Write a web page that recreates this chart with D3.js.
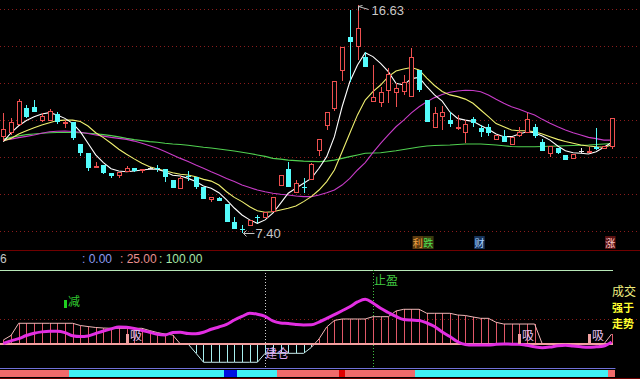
<!DOCTYPE html>
<html><head><meta charset="utf-8">
<script src="https://cdn.jsdelivr.net/npm/d3@7"></script>
<style>html,body{margin:0;padding:0;background:#000;overflow:hidden}svg{display:block}</style>
</head><body><svg id="c" width="640" height="379"></svg>
<script>
// ---------- DATA ----------
const opens  = [11.31,11.47,11.79,12.48,12.52,11.95,11.95,12.24,11.83,11.91,11.02,10.66,10.09,10.17,9.85,9.73,9.89,10.05,9.93,10.05,10.07,10.01,9.56,9.20,9.71,9.69,9.28,8.76,8.84,8.59,7.86,7.60,7.70,8.05,8.03,8.27,9.32,10.01,9.04,9.30,9.56,10.74,11.75,12.44,13.98,15.35,14.95,14.54,12.72,12.68,13.17,13.09,13.13,12.93,14.02,12.80,11.67,12.12,11.99,11.69,11.47,12.03,11.67,11.71,11.18,11.35,10.98,11.35,11.47,11.71,11.10,10.62,10.86,10.58,10.42,10.74,10.66,10.90,10.82,10.90];
const highs  = [12.28,12.07,12.84,12.60,12.80,12.28,12.44,12.32,11.99,11.91,11.02,10.66,10.29,10.17,9.85,9.89,10.13,10.05,10.01,10.09,10.17,10.01,9.56,9.73,9.93,9.69,9.28,8.88,8.88,8.59,8.07,7.74,7.95,8.15,8.27,8.88,9.77,10.29,9.56,9.65,10.25,11.22,12.32,13.57,14.95,16.45,16.63,14.75,14.22,13.33,14.10,13.49,13.82,14.91,14.02,12.80,12.52,12.56,12.32,12.20,11.99,12.12,11.79,11.83,11.39,11.59,11.31,11.71,12.28,11.83,11.22,10.94,10.86,10.58,10.62,10.86,10.90,11.67,10.94,12.07];
const lows   = [11.14,11.39,11.79,12.07,12.32,11.91,11.95,11.83,11.67,11.18,10.54,9.93,10.09,9.81,9.65,9.65,9.89,9.89,9.85,10.01,9.89,9.48,9.24,9.20,9.52,9.20,8.80,8.67,8.71,7.86,7.58,7.40,7.70,7.82,8.03,8.27,9.32,9.28,9.04,9.04,9.56,10.54,11.59,12.36,13.57,13.53,14.42,14.14,12.72,12.52,12.68,12.52,13.01,12.93,13.13,11.91,11.67,11.59,11.71,11.59,11.06,11.71,11.31,11.35,11.18,11.10,10.98,11.31,11.47,11.27,10.74,10.50,10.62,10.37,10.42,10.66,10.66,10.78,10.82,10.82];
const closes = [11.63,11.91,12.76,12.12,12.32,12.16,12.36,11.91,11.91,11.27,10.66,10.05,10.13,9.85,9.73,9.89,10.05,9.93,10.01,10.05,10.03,9.69,9.24,9.65,9.67,9.28,8.80,8.88,8.71,7.86,7.58,7.56,7.95,8.01,8.27,8.88,9.77,9.28,9.44,9.26,10.21,11.22,12.32,13.57,14.95,15.15,15.72,14.14,12.93,13.13,13.86,13.29,13.53,14.54,13.20,11.91,12.28,12.32,11.83,11.73,11.83,11.87,11.51,11.47,11.39,11.10,11.31,11.51,12.03,11.35,10.74,10.94,10.66,10.37,10.62,10.74,10.74,10.82,10.94,12.07];

const ma5  = [11.12,11.47,11.76,11.97,12.13,12.24,12.29,12.20,12.06,11.86,11.52,11.05,10.58,10.27,10.02,9.93,9.90,9.93,9.97,10.00,10.00,9.90,9.76,9.73,9.63,9.50,9.32,9.23,9.05,8.76,8.43,8.15,7.95,7.81,7.95,8.22,8.62,9.03,9.23,9.43,9.63,10.04,10.51,11.32,12.53,13.54,14.22,14.72,14.56,14.29,13.95,13.48,13.41,13.67,13.72,13.34,13.01,12.76,12.32,12.06,11.99,11.94,11.77,11.62,11.43,11.32,11.32,11.43,11.52,11.48,11.35,11.18,10.94,10.75,10.67,10.65,10.62,10.71,10.89,11.08];
const ma10 = [11.14,11.25,11.43,11.56,11.68,11.79,11.88,11.97,11.99,11.99,11.93,11.75,11.48,11.28,11.05,10.81,10.61,10.42,10.24,10.10,10.01,9.94,9.86,9.80,9.77,9.70,9.59,9.52,9.36,9.09,8.86,8.69,8.48,8.32,8.26,8.28,8.35,8.42,8.51,8.69,8.89,9.16,9.50,9.97,10.71,11.46,12.20,12.80,13.14,13.41,13.75,13.98,14.06,14.12,14.02,13.69,13.39,13.15,13.01,12.94,12.84,12.67,12.40,12.13,11.85,11.72,11.59,11.56,11.56,11.52,11.43,11.32,11.21,11.12,11.05,10.98,10.94,10.91,10.89,10.98];
const ma20 = [11.18,11.22,11.28,11.33,11.39,11.46,11.52,11.54,11.55,11.53,11.50,11.45,11.39,11.34,11.29,11.25,11.21,11.14,11.05,10.95,10.85,10.72,10.58,10.44,10.31,10.17,10.04,9.90,9.77,9.63,9.50,9.36,9.26,9.16,9.09,9.03,8.99,8.96,8.92,8.89,8.89,8.96,9.05,9.16,9.36,9.63,9.97,10.27,10.67,11.05,11.39,11.72,11.99,12.28,12.53,12.73,12.90,13.03,13.12,13.17,13.20,13.19,13.14,13.01,12.83,12.67,12.53,12.43,12.31,12.20,12.02,11.86,11.72,11.59,11.48,11.39,11.29,11.24,11.18,11.18];
const ma60 = [11.22,11.29,11.35,11.40,11.43,11.46,11.48,11.49,11.49,11.49,11.48,11.46,11.44,11.40,11.36,11.31,11.25,11.20,11.16,11.12,11.09,11.05,11.02,11.00,10.97,10.93,10.89,10.86,10.82,10.78,10.74,10.69,10.64,10.58,10.52,10.44,10.41,10.37,10.35,10.33,10.32,10.31,10.33,10.37,10.44,10.51,10.58,10.65,10.66,10.67,10.71,10.75,10.80,10.85,10.90,10.94,10.96,10.97,10.98,11.00,11.02,11.02,11.02,11.00,10.98,10.95,10.92,10.91,10.91,10.91,10.92,10.93,10.94,10.95,10.96,10.97,10.98,11.00,11.02,11.04];
const priceGrid = [7.5,9,10.5,12,13.5,15,16.5];
const highLabel = {idx:46, text:"16.63"};
const lowLabel  = {idx:31, text:"7.40"};
const events = [{idx:54,text:"利",kind:"a"},{idx:55,text:"跌",kind:"b"},{idx:62,text:"财",kind:"c"},{idx:79,text:"涨",kind:"d"}];

// lower indicator
const hatch = [5.4,11.5,28,28,28,28,28,28,28,28,25,23.6,22.3,21.6,21.2,21.2,21.2,21.2,21.2,18.2,15.5,13.5,12.2,0,0,-12.2,-24.7,-24.7,-24.7,-24.7,-24.7,-24.7,-24.7,-24.7,-12.6,-12.6,-12.6,-12.6,-12.6,-12.6,-4.7,6.8,23,31.8,33.8,33.8,33.8,33.8,36.9,36.9,36.9,44.6,46.9,46.9,46.9,41.5,41.5,41.5,41.5,39.2,38.5,36.5,34.7,34.7,29.3,27,27,27,27,27,0,0,0,0,0,0,0,0,0,13.5];
const power = [0.7,4.3,7.3,11.5,14.6,16.4,17.3,17.3,15.4,11.1,10,10.8,14.2,17.6,20.5,23.1,22.6,20.9,18.2,15.9,13.1,12.2,15.5,15.8,14.2,13.8,15.8,19.9,23,26.6,32.4,37.2,41.5,40.3,37.4,31.1,28.4,27.7,26.4,25.7,25.9,29.7,34.5,39.7,44.9,50.3,56.8,60.5,55.4,48.2,42.6,37.2,33.1,32.4,31.8,28.4,23.6,16.2,10,3,-0.7,-1.4,-1.4,-1.4,-0.4,0,-0.3,-0.4,-1.8,-3.8,-5,-4.1,-2.4,-1.6,-2.7,-3.8,-4.5,-3.8,-2.7,2.7];
const lowerLevels = [100, 33.8, 0];
const headerValues = ["0.00","25.00","100.00"];
const buySignals = [16,67,76];       // 吸
const reduceSignals = [8];           // 减
const buildSignals = [34];           // 建仓
const profitSignals = [48];          // 止盈
const stripeFrom  = [0,9,36,54,79];
const stripeTo    = [8,35,53,78,79];
const stripeState = ["up","down","up","down","up"];
const stripeMarks = [{from:29,to:30,kind:"down"},{from:44,to:44,kind:"up"}];
const sideTexts = ["成交","强于","走势"];

// ---------- DRAW ----------
const svg = d3.select("#c");
svg.append("rect").attr("width",640).attr("height",379).attr("fill","#000");
const N = closes.length;
const idx = d3.range(N);
const x = d3.scaleLinear().domain([0,N-1]).range([3.3,611.6]);
const y = d3.scaleLinear().domain([7.5,16.5]).range([231,8.7]);
const yL = d3.scaleLinear().domain([0,100]).range([344,270]);
const RED="#ee5050", CYAN="#54fcfc";
const GRID="#8a1c1c";

// grid
svg.append("g").attr("shape-rendering","crispEdges").selectAll("line").data(priceGrid).join("line")
  .attr("x1",0).attr("x2",640).attr("y1",d=>Math.round(y(d))+0.5).attr("y2",d=>Math.round(y(d))+0.5)
  .attr("stroke",GRID).attr("stroke-dasharray","1,3");

// MA lines
const mkLine = arr => d3.line().x((d,i)=>x(i)).y(d=>y(d))(arr);
[[ma60,"#50d050"],[ma20,"#c83cc8"],[ma10,"#f0f070"],[ma5,"#ffffff"]].forEach(([a,c])=>{
  svg.append("path").attr("d",mkLine(a)).attr("fill","none").attr("stroke",c).attr("stroke-width",1.1);
});

// candles
const cg = svg.append("g").attr("shape-rendering","crispEdges");
idx.forEach(i=>{
  const o=opens[i], c=closes[i], h=highs[i], l=lows[i];
  const xc = Math.round(x(i));
  const col = c>o ? RED : (c<o ? CYAN : "#e8e8e8");
  const top = Math.round(y(Math.max(o,c))), bot = Math.max(Math.round(y(Math.min(o,c))), top+1);
  if (c>o) {
    cg.append("line").attr("x1",xc+0.5).attr("x2",xc+0.5).attr("y1",y(h)).attr("y2",top).attr("stroke",col);
    cg.append("line").attr("x1",xc+0.5).attr("x2",xc+0.5).attr("y1",bot).attr("y2",y(l)).attr("stroke",col);
    cg.append("rect").attr("x",xc-2+0.5).attr("y",top+0.5).attr("width",4).attr("height",Math.max(bot-top-1,1))
      .attr("fill","#000").attr("stroke",col);
  } else {
    cg.append("line").attr("x1",xc+0.5).attr("x2",xc+0.5).attr("y1",y(h)).attr("y2",y(l)).attr("stroke",col);
    cg.append("rect").attr("x",xc-2).attr("y",top).attr("width",5).attr("height",Math.max(bot-top,1)).attr("fill",col);
  }
});

// high / low labels
const lab = "#c8c8c8";
{
  const hx = Math.round(x(highLabel.idx))+0.5, hy = y(highs[highLabel.idx]);
  svg.append("path").attr("d",`M${hx},${hy+1} L${hx+10},${hy+4} M${hx},${hy+1} l4,-1 M${hx},${hy+1} l0,4`)
    .attr("stroke",lab).attr("fill","none");
  svg.append("text").attr("x",hx+13).attr("y",hy+10).text(highLabel.text)
    .attr("fill",lab).attr("font-family","Liberation Sans, Arial").attr("font-size",13);
  const lx = Math.round(x(lowLabel.idx))+0.5, ly = y(lows[lowLabel.idx]);
  svg.append("path").attr("d",`M${lx+1},${ly} L${lx+12},${ly} M${lx+1},${ly} l3,-3 M${lx+1},${ly} l3,3`)
    .attr("stroke",lab).attr("fill","none");
  svg.append("text").attr("x",lx+13).attr("y",ly+5).text(lowLabel.text)
    .attr("fill",lab).attr("font-family","Liberation Sans, Arial").attr("font-size",13);
}

// event boxes (adjacent ones are placed side by side)
const evStyle = {a:["#5a3a10","#f0a040"],b:["#3a3a10","#50e050"],c:["#17345a","#a8d0ff"],d:["#5a1212","#ffc8c8"]};
let prevRight = -1;
events.forEach(e=>{
  const w = 10.5;
  const left = Math.max(x(e.idx)-6.5, prevRight);
  prevRight = left + w;
  svg.append("rect").attr("x",left).attr("y",236).attr("width",w).attr("height",13).attr("fill",evStyle[e.kind][0]);
  svg.append("text").attr("x",left+w/2).attr("y",246.5).attr("text-anchor","middle").text(e.text)
    .attr("fill",evStyle[e.kind][1]).attr("font-family","Noto Sans CJK SC").attr("font-size",10);
});

// separators
svg.append("line").attr("x1",0).attr("x2",640).attr("y1",250.5).attr("y2",250.5).attr("stroke","#700000");
svg.append("line").attr("x1",0).attr("x2",640).attr("y1",378.5).attr("y2",378.5).attr("stroke","#700000");

// header
svg.append("text").attr("x",0).attr("y",263).text("6").attr("fill","#c8c8c8")
  .attr("font-family","Liberation Sans, Arial").attr("font-size",12);
const hdrCol = ["#8c9cf0","#e89090","#a8e8a8"], hdrX=[82,120,159];
headerValues.forEach((v,k)=>{
  svg.append("text").attr("x",hdrX[k]).attr("y",263).text(": "+v).attr("fill",hdrCol[k])
    .attr("font-family","Liberation Sans, Arial").attr("font-size",12);
});

// lower panel levels
svg.append("line").attr("x1",0).attr("x2",613).attr("y1",Math.round(yL(lowerLevels[0]))+0.5).attr("y2",Math.round(yL(lowerLevels[0]))+0.5).attr("stroke","#b8e8b8");
svg.append("line").attr("shape-rendering","crispEdges").attr("x1",0).attr("x2",640).attr("y1",Math.round(yL(lowerLevels[1]))+0.5).attr("y2",Math.round(yL(lowerLevels[1]))+0.5)
  .attr("stroke",GRID).attr("stroke-dasharray","1,3");

// vertical signal lines
buildSignals.forEach(i=>svg.append("line").attr("x1",Math.round(x(i))+0.5).attr("x2",Math.round(x(i))+0.5).attr("y1",270).attr("y2",367)
  .attr("stroke","#d0d0d0").attr("stroke-dasharray","1,2"));
profitSignals.forEach(i=>svg.append("line").attr("x1",Math.round(x(i))+0.5).attr("x2",Math.round(x(i))+0.5).attr("y1",270).attr("y2",367)
  .attr("stroke","#40c040").attr("stroke-dasharray","1,2"));

// hatch
const hg = svg.append("g").attr("shape-rendering","crispEdges");
idx.filter(i=>hatch[i]!==0).forEach(i=>{
  hg.append("line").attr("x1",Math.round(x(i))+0.5).attr("x2",Math.round(x(i))+0.5)
    .attr("y1",yL(0)).attr("y2",yL(hatch[i])).attr("stroke",hatch[i]>0?"#e05868":"#a8f0f0");
});
d3.pairs(idx).forEach(([a,b])=>{
  const pos = (hatch[a]+hatch[b])>=0;
  svg.append("line").attr("x1",x(a)).attr("x2",x(b)).attr("y1",yL(hatch[a])).attr("y2",yL(hatch[b]))
    .attr("stroke",pos?"#f0b8b8":"#c8ecec").attr("stroke-width",1);
});
// baseline
svg.append("line").attr("x1",0).attr("x2",613).attr("y1",yL(0)).attr("y2",yL(0)).attr("stroke","#f4a0a0").attr("stroke-width",2.2);

// power line
svg.append("path").attr("d",d3.line().x((d,i)=>x(i)).y(d=>yL(d)).curve(d3.curveMonotoneX)(power))
  .attr("fill","none").attr("stroke","#e22ee2").attr("stroke-width",3);

// signals text
const cjk = "Noto Sans CJK SC";
buySignals.forEach(i=>{
  const xc=Math.round(x(i));
  svg.append("rect").attr("x",xc-1).attr("y",334).attr("width",3).attr("height",10).attr("fill","#f0a0a0");
  svg.append("text").attr("x",xc+3).attr("y",340).text("吸").attr("fill","#e6c0f0").attr("font-family",cjk).attr("font-size",12);
});
reduceSignals.forEach(i=>{
  const xc=Math.round(x(i));
  svg.append("rect").attr("x",xc-1).attr("y",300).attr("width",3).attr("height",8).attr("fill","#20d020");
  svg.append("text").attr("x",xc+3).attr("y",306).text("减").attr("fill","#30c830").attr("font-family",cjk).attr("font-size",12);
});
buildSignals.forEach(i=>{
  svg.append("text").attr("x",Math.round(x(i))).attr("y",358).text("建仓").attr("fill","#dca8f0").attr("font-family",cjk).attr("font-size",12);
});
profitSignals.forEach(i=>{
  svg.append("text").attr("x",Math.round(x(i))+1).attr("y",285).text("止盈").attr("fill","#40c840").attr("font-family",cjk).attr("font-size",12);
});

// right side texts
svg.append("text").attr("x",612).attr("y",296).text(sideTexts[0]).attr("fill","#f0f080").attr("font-family",cjk).attr("font-size",12);
svg.append("text").attr("x",612).attr("y",312).text(sideTexts[1]).attr("fill","#ffff30").attr("font-family",cjk).attr("font-size",11).attr("font-weight","bold");
svg.append("text").attr("x",612).attr("y",328).text(sideTexts[2]).attr("fill","#ffff30").attr("font-family",cjk).attr("font-size",11).attr("font-weight","bold");

// stripe bar
const half = (x(1)-x(0))/2;
svg.append("line").attr("x1",0).attr("x2",x(N-1)+half).attr("y1",368.5).attr("y2",368.5).attr("stroke","#7070d8");
const sg = svg.append("g").attr("shape-rendering","crispEdges");
stripeFrom.forEach((f,k)=>{
  const x0 = k===0?0:x(f)-half;
  sg.append("rect").attr("x",x0).attr("y",370).attr("width",x(stripeTo[k])+half-x0).attr("height",7)
    .attr("fill",stripeState[k]==="up"?"#f06a6a":"#40f0f4");
});
stripeMarks.forEach(m=>{
  sg.append("rect").attr("x",x(m.from)-half+1).attr("y",370).attr("width",x(m.to)-x(m.from)+2*half-2).attr("height",7)
    .attr("fill",m.kind==="up"?"#e00000":"#0010e0");
});
</script></body></html>
